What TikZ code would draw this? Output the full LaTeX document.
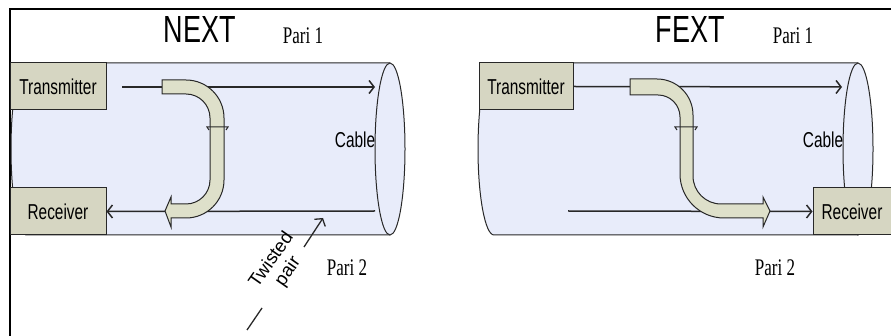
\documentclass[tikz,border=0pt]{standalone}
\usepackage{fontspec}
\setmainfont{Liberation Serif}
\setsansfont{Liberation Sans}
\usepackage{graphicx}
\usetikzlibrary{arrows.meta,positioning}
\definecolor{cablefill}{RGB}{232,236,250}
\definecolor{boxfill}{RGB}{214,214,194}
\definecolor{bandfill}{RGB}{222,224,202}
\definecolor{linedark}{RGB}{40,40,40}
\newcommand{\vstretch}[1]{\scalebox{1}[1.4]{#1}}

\begin{document}
\begin{tikzpicture}[x=1pt, y=-1pt,
  every node/.style={inner sep=0pt},
  devbox/.style={draw=linedark, fill=boxfill, line width=1pt, minimum height=47pt, font=\sffamily\fontsize{15.4}{18}\selectfont},
  pairline/.style={-{Straight Barb[length=5pt,width=13pt]}, line width=1.5pt, color=linedark},
  cabletube/.style={fill=cablefill, draw=linedark, line width=1pt},
  band/.style={fill=bandfill, draw=linedark, line width=1pt},
  tick/.style={draw=linedark, line width=1pt},
  title/.style={font=\sffamily\fontsize{27}{30}\selectfont},
  pairlbl/.style={font=\rmfamily\fontsize{17}{20}\selectfont},
  cablelbl/.style={font=\sffamily\fontsize{15.4}{18}\selectfont}
]
\useasboundingbox (0,0) rectangle (891,336);

% frame
\draw[line width=2.2pt] (10,336) -- (10,9) -- (891,9);

% ---------------- NEXT ----------------
\path[cabletube] (390,63) -- (26,63) arc[start angle=90, end angle=270, x radius=15pt, y radius=86pt] -- (390,235);
\path[cabletube] (390,149) ellipse[x radius=15pt, y radius=86pt];

\node[devbox, minimum width=96pt] (tx1) at (58,86.5) {\vstretch{Transmitter}};
\node[devbox, minimum width=96pt] (rx1) at (58,211.5) {\vstretch{Receiver}};

\coordinate (p1start) at (122,87);
\coordinate (p1end) at (375,87);
\coordinate (p2start) at (375,211);
\draw[pairline] (p1start) -- (p1end);
\draw[pairline] (p2start) -- (rx1.east);

% crosstalk back to the near end
\filldraw[band] (162,80) -- (186,80) arc[start angle=90, end angle=0, radius=38pt]
  -- (224,180) arc[start angle=0, end angle=-90, radius=38pt]
  -- (171,218) -- (171,227) -- (165,211) -- (171,197) -- (171,204)
  -- (186,204) arc[start angle=-90, end angle=0, radius=24pt]
  -- (210,118) arc[start angle=0, end angle=90, radius=24pt]
  -- (162,94) -- cycle;
\draw[tick] (209,130) -- (207,127) -- (228,127) -- (226,130);

\node[title] (next) at (200,30) {\vstretch{NEXT}};
\node[pairlbl] (pari1a) at (303,36) {\vstretch{Pari 1}};
\node[cablelbl] (cable1) at (355,140) {\vstretch{Cable}};
\node[pairlbl] (pari2a) at (347,268) {\vstretch{Pari 2}};

\node[rotate=55, align=center, font=\sffamily\fontsize{18.5}{20}\selectfont] (twisted) at (280,266) {Twisted\\pair};
\coordinate (tpstart) at (247,330);
\coordinate (tpa) at (262,308);
\coordinate (tpb) at (304,247);
\coordinate (tptip) at (323,218);
\draw[line width=1.3pt, color=linedark] (tpstart) -- (tpa);
\draw[pairline, line width=1.3pt] (tpb) -- (tptip);

% ---------------- FEXT ----------------
\path[cabletube] (858,63) -- (494,63) arc[start angle=90, end angle=270, x radius=16pt, y radius=86pt] -- (858,235);
\path[cabletube] (858,149) ellipse[x radius=15pt, y radius=86pt];

\node[devbox, minimum width=94pt] (tx2) at (526,86.5) {\vstretch{Transmitter}};
\node[devbox, minimum width=78pt] (rx2) at (852,211.5) {\vstretch{Receiver}};

\coordinate (q1end) at (842,87);
\coordinate (q2start) at (568,211);
\draw[pairline] (tx2.east) -- (q1end);
\draw[pairline] (q2start) -- (rx2.west);

% crosstalk on to the far end
\filldraw[band] (630,79) -- (657,79) arc[start angle=90, end angle=0, radius=36pt]
  -- (693,176) arc[start angle=180, end angle=270, radius=28pt]
  -- (763,204) -- (763,197) -- (770,211) -- (763,227) -- (763,218)
  -- (724,218) arc[start angle=270, end angle=180, radius=44pt]
  -- (680,117) arc[start angle=0, end angle=90, radius=22pt]
  -- (630,95) -- cycle;
\draw[tick] (677,130) -- (675,127) -- (697,127) -- (695,130);

\node[title] (fext) at (690,30) {\vstretch{FEXT}};
\node[pairlbl] (pari1b) at (793,36) {\vstretch{Pari 1}};
\node[cablelbl] (cable2) at (823,140) {\vstretch{Cable}};
\node[pairlbl] (pari2b) at (775,268) {\vstretch{Pari 2}};
\end{tikzpicture}
\end{document}
